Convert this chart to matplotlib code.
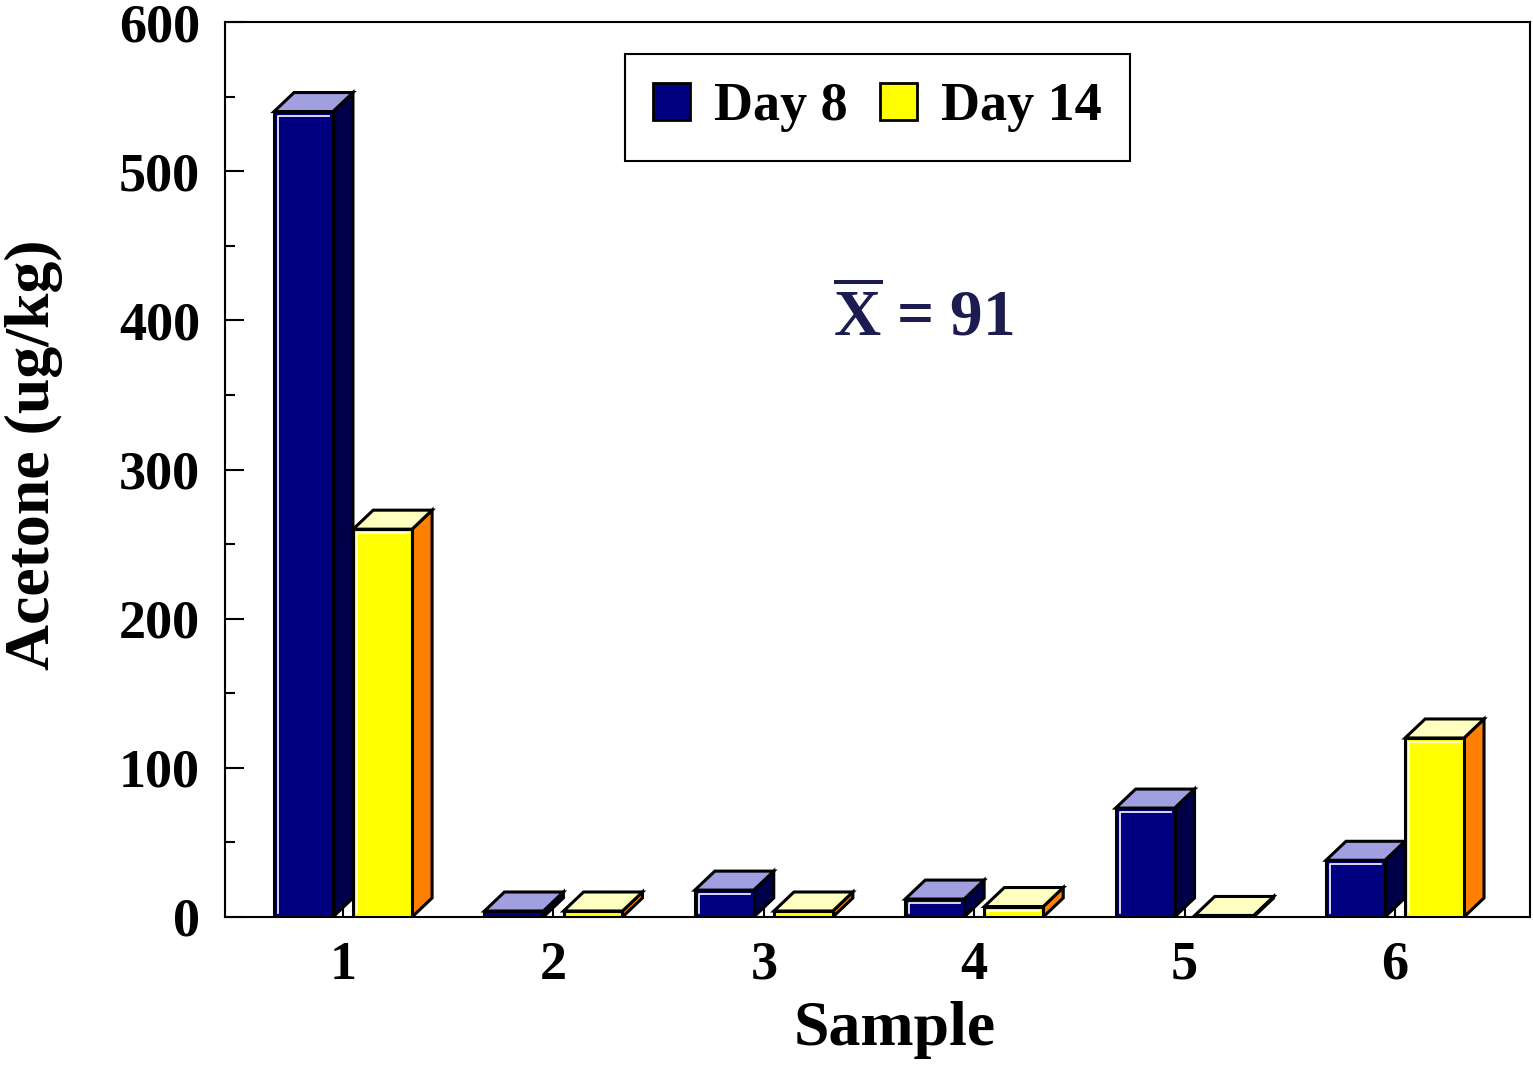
import matplotlib
matplotlib.use('Agg')
from matplotlib import pyplot as plt
from matplotlib.patches import Polygon, Patch
from matplotlib.lines import Line2D

samples = [1, 2, 3, 4, 5, 6]
day8 = [540, 4, 18, 12, 73, 38]
day14 = [260, 4, 4, 7, 1, 120]
series_labels = ['Day 8', 'Day 14']
mean_value = 91

plt.rcParams['font.family'] = ['Liberation Serif', 'DejaVu Serif']
plt.rcParams['font.weight'] = 'bold'
plt.rcParams['mathtext.fontset'] = 'custom'
plt.rcParams['mathtext.rm'] = 'Liberation Serif:bold'
plt.rcParams['mathtext.bf'] = 'Liberation Serif:bold'

# face colours: front, top, side
NAVY = ('#000080', '#a0a0e0', '#000048')
YELLOW = ('#ffff00', '#ffffc0', '#ff8000')

fig = plt.figure(figsize=(15.33, 10.65), dpi=100)
ax = fig.add_axes([0.1468, 0.139, 0.8513, 0.8403])
ax.set_xlim(0.439, 6.642)
ax.set_ylim(0, 600)


def px_to_data(dx_px, dy_px):
    x0, y0 = ax.transData.transform((0, 0))
    return ax.transData.inverted().transform((x0 + dx_px, y0 + dy_px))


def draw_box(xl, w, h, colors):
    dx, dy = px_to_data(20, 19)
    ix, iy = px_to_data(4, 4)
    xr = xl + w
    side = Polygon([(xr, 0), (xr, h), (xr + dx, h + dy), (xr + dx, dy)],
                   closed=True, fc=colors[2], ec='black', lw=2.2, zorder=2)
    top = Polygon([(xl, h), (xl + dx, h + dy), (xr + dx, h + dy), (xr, h)],
                  closed=True, fc=colors[1], ec='black', lw=2.2, zorder=2)
    ax.add_patch(side)
    ax.add_patch(top)
    ax.bar(xl, h, w, align='edge', color=colors[0], edgecolor='black',
           linewidth=2.2, zorder=3)
    if h > 2 * iy:
        ax.add_line(Line2D([xl + ix, xl + ix, xr - ix], [iy, h - iy, h - iy],
                           color='white', lw=1.2, zorder=4))


bar_w = 0.28
for i, s in enumerate(samples):
    draw_box(s - 0.328, bar_w, day8[i], NAVY)
    draw_box(s + 0.048, bar_w, day14[i], YELLOW)

ax.set_axisbelow(True)
ax.set_xticks(samples)
ax.set_xticklabels([str(s) for s in samples])
ax.set_yticks(range(0, 601, 100))
ax.set_yticks(range(50, 600, 100), minor=True)
ax.tick_params(axis='both', which='major', direction='in', length=14,
               width=1.5, labelsize=39, top=False, right=False)
ax.tick_params(axis='y', which='minor', direction='in', length=7, width=1.5)
ax.tick_params(axis='y', which='major', pad=18)
ax.tick_params(axis='x', which='major', pad=17)
for sp in ax.spines.values():
    sp.set_linewidth(1.5)

ax.set_xlabel('Sample', fontsize=46, fontweight='bold')
ax.xaxis.set_label_coords(0.513, -0.094)
ax.set_ylabel('Acetone (ug/kg)', fontsize=46, fontweight='bold')
ax.yaxis.set_label_coords(-0.124, 0.516)

handles = [Patch(facecolor=NAVY[0], edgecolor='black', linewidth=2),
           Patch(facecolor=YELLOW[0], edgecolor='black', linewidth=2)]
leg = ax.legend(handles, series_labels, loc='upper center',
                bbox_to_anchor=(0.5, 0.964), ncol=2, fontsize=39,
                frameon=True, fancybox=False, framealpha=1, edgecolor='black',
                handlelength=0.68, handleheight=0.68, handletextpad=0.45,
                columnspacing=0.6, borderpad=0.52, borderaxespad=0)
leg.get_frame().set_linewidth(1.5)

ax.text(0.535, 0.650, r'$\overline{\mathbf{X}}$ = ' + str(mean_value),
        transform=ax.transAxes, ha='center', va='baseline', fontsize=47,
        fontweight='bold', color='#1c1c50')

fig.savefig('out.png', dpi=100)
